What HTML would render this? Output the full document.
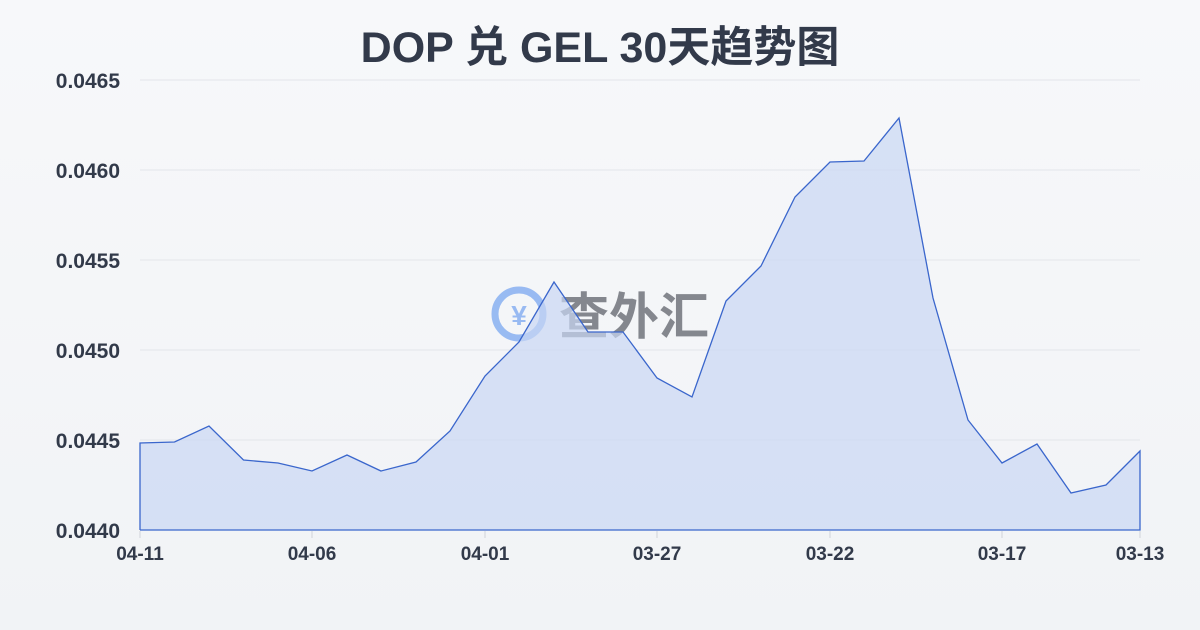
<!DOCTYPE html>
<html><head><meta charset="utf-8"><style>
html,body{margin:0;padding:0;width:1200px;height:630px;overflow:hidden}
body{background:linear-gradient(180deg,#f7f8fa,#f1f3f6);font-family:"Liberation Sans","Noto Sans CJK SC",sans-serif}
</style></head><body>
<svg width="1200" height="630" xmlns="http://www.w3.org/2000/svg" style="position:absolute;left:0;top:0">
<text x="600" y="62" text-anchor="middle" font-size="43" font-weight="bold" fill="#323a4a" font-family="Liberation Sans,Noto Sans CJK SC,sans-serif">DOP 兑 GEL 30天趋势图</text>
<g stroke="#e3e5ea" stroke-width="1">
<line x1="140" y1="80" x2="1140" y2="80"/><line x1="140" y1="170" x2="1140" y2="170"/>
<line x1="140" y1="260" x2="1140" y2="260"/><line x1="140" y1="350" x2="1140" y2="350"/>
<line x1="140" y1="440" x2="1140" y2="440"/>
</g>
<g font-size="21" font-weight="bold" fill="#323a4a" text-anchor="end">
<text x="120" y="88">0.0465</text><text x="120" y="178">0.0460</text><text x="120" y="268">0.0455</text>
<text x="120" y="358">0.0450</text><text x="120" y="448">0.0445</text><text x="120" y="538">0.0440</text>
</g>
<g opacity="0.75">
<circle cx="519" cy="314" r="24" fill="none" stroke="#7aa7f0" stroke-width="7"/>
<text x="519" y="325" text-anchor="middle" font-size="28" font-weight="bold" fill="#7aa7f0">¥</text>
<text x="559" y="334" font-size="50" font-weight="bold" fill="#5f636b" font-family="Noto Sans CJK SC,sans-serif">查外汇</text>
</g>
<polygon fill="#c9d7f3" fill-opacity="0.7" points="140,530 140,443 174.5,442 209,426 243.5,460 278,463 312,471 347,455 381,471 416,462 450,431 485,376 519,342 554,282 588,332 623,332 657,378 692,397 726,301 761,266 795,197 830,162 864,161 899,118 933,298 968,420 1002,463 1037,444 1071,493 1106,485 1140,451 1140,530"/>
<polyline fill="none" stroke="#3a66cc" stroke-width="1.3" points="140,530 140,443 174.5,442 209,426 243.5,460 278,463 312,471 347,455 381,471 416,462 450,431 485,376 519,342 554,282 588,332 623,332 657,378 692,397 726,301 761,266 795,197 830,162 864,161 899,118 933,298 968,420 1002,463 1037,444 1071,493 1106,485 1140,451 1140,530 140,530"/>
<g stroke="#d0d3da"><line x1="140" y1="531" x2="140" y2="538"/><line x1="312" y1="531" x2="312" y2="538"/><line x1="485" y1="531" x2="485" y2="538"/><line x1="657" y1="531" x2="657" y2="538"/><line x1="830" y1="531" x2="830" y2="538"/><line x1="1002" y1="531" x2="1002" y2="538"/><line x1="1140" y1="531" x2="1140" y2="538"/></g>
<g font-size="19" font-weight="bold" fill="#323a4a" text-anchor="middle">
<text x="140" y="560">04-11</text><text x="312" y="560">04-06</text><text x="485" y="560">04-01</text>
<text x="657" y="560">03-27</text><text x="830" y="560">03-22</text><text x="1002" y="560">03-17</text><text x="1140" y="560">03-13</text>
</g>
</svg>
</body></html>
